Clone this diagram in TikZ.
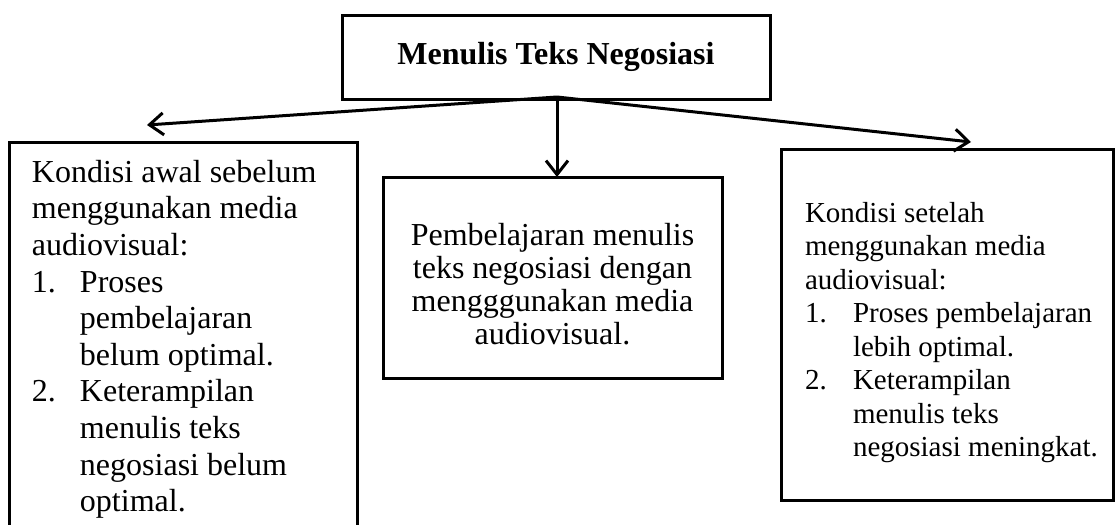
\documentclass[tikz,border=0pt]{standalone}
\usepackage{fontspec}
\setmainfont{Liberation Serif}
\usetikzlibrary{arrows.meta,positioning}
\hfuzz=20pt
\newcommand{\butir}[2]{% numbered item
\par\hangindent=24pt\hangafter=1\noindent\makebox[24pt][l]{#1}#2\par}
\tikzstyle{kotak} = [
    draw,
    line width=1.5pt,
    rectangle,
    outer sep=0pt,
    anchor=north west
    ]
\tikzstyle{judul} = [
    kotak,
    anchor=center,
    inner sep=0pt,
    font=\bfseries\fontsize{16pt}{18pt}\selectfont
    ]
\tikzstyle{panah} = [
    line width=1.5pt,
    -{Straight Barb[length=7pt,width=11pt,line width=1.5pt]}
    ]

\begin{document}
\begin{tikzpicture}[x=0.5pt,y=-0.5pt]
\useasboundingbox (0,0) rectangle (1115,525);
\node[judul, minimum width=214pt, minimum height=42pt] (judul) at (556,57) {Menulis Teks Negosiasi};

\node[kotak, inner xsep=11.5pt, inner ysep=9pt] (awal) at (9,142){%
    \parbox[t][191pt][t]{151pt}{\raggedright\hyphenpenalty=10000\fontsize{16pt}{18.3pt}\selectfont
    Kondisi awal sebelum\newline menggunakan media\newline audiovisual:\par
    \butir{1.}{Proses\newline pembelajaran\newline belum optimal.}
    \butir{2.}{Keterampilan\newline menulis teks\newline negosiasi belum\newline optimal.}
    }
};
\node[kotak, inner xsep=5pt, inner ysep=23pt] (proses) at (383,177){%
    \parbox[t][54.5pt][t]{159.5pt}{\centering\fontsize{16pt}{16.5pt}\selectfont
    Pembelajaran menulis\\ teks negosiasi dengan\\ mengggunakan media\\ audiovisual.
    }
};
\node[kotak, inner xsep=12pt, inner ysep=26.5pt] (akhir) at (781,149){%
    \parbox[t][122.5pt][t]{142pt}{\raggedright\hyphenpenalty=10000\fontsize{14.5pt}{16.75pt}\selectfont
    Kondisi setelah\newline menggunakan media\newline audiovisual:\par
    \butir{1.}{\mbox{Proses pembelajaran}\newline lebih optimal.}
    \butir{2.}{Keterampilan\newline menulis teks\newline \mbox{negosiasi meningkat.}}
    }
};

\coordinate (pangkal) at ([xshift=0.5pt,yshift=1pt]judul.south);
\coordinate (ujungkiri) at ([xshift=-18pt,yshift=8.5pt]awal.north);
\coordinate (ujungkanan) at ([xshift=12pt,yshift=3.5pt]akhir.north);
\draw[panah] (pangkal) -- (ujungkiri);
\draw[panah] (pangkal) -- (pangkal |- proses.north);
\draw[panah] (pangkal) -- (ujungkanan);
\end{tikzpicture}
\end{document}
